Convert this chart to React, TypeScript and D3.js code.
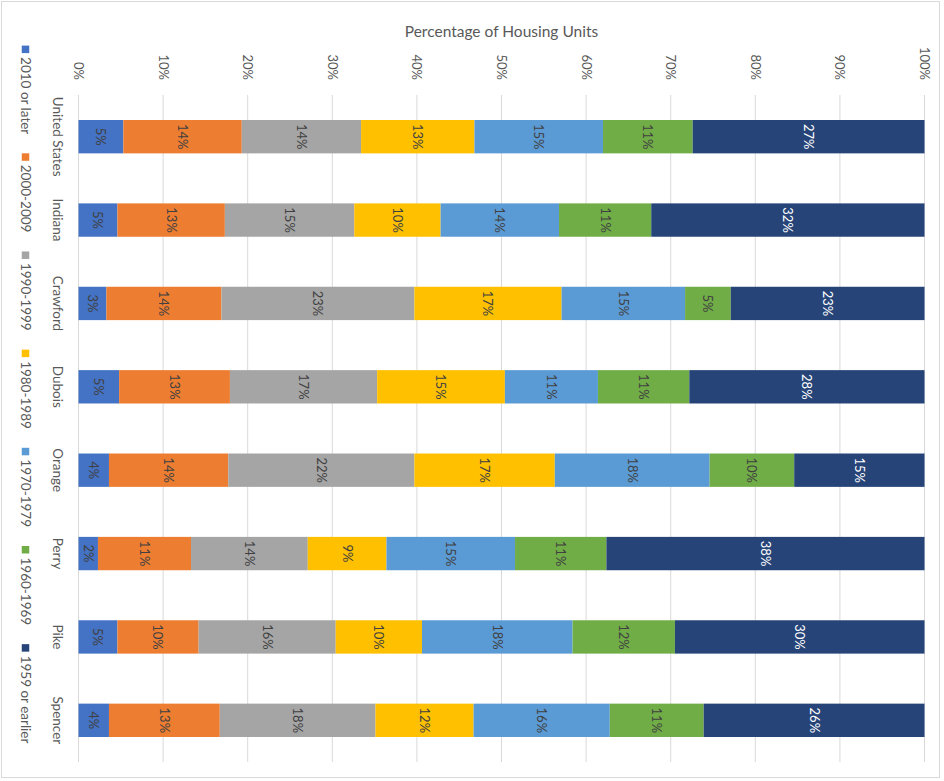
import { useEffect, useRef } from "react"
import * as d3 from "d3"

const categories = ["United States", "Indiana", "Crawford", "Dubois", "Orange", "Perry", "Pike", "Spencer"]
const seriesNames = ["2010 or later", "2000-2009", "1990-1999", "1980-1989", "1970-1979", "1960-1969", "1959 or earlier"]
const seriesColors = ["#4472C4", "#ED7D31", "#A5A5A5", "#FFC000", "#5B9BD5", "#70AD47", "#264478"]

const built2010 = [5.3, 4.6, 3.3, 4.8, 3.6, 2.3, 4.6, 3.6]
const built2000 = [14.0, 12.7, 13.6, 13.1, 14.1, 11.0, 9.6, 13.1]
const built1990 = [14.1, 15.3, 22.8, 17.4, 22.0, 13.8, 16.2, 18.4]
const built1980 = [13.4, 10.2, 17.4, 15.1, 16.6, 9.3, 10.2, 11.6]
const built1970 = [15.2, 14.0, 14.6, 11.0, 18.3, 15.2, 17.8, 16.1]
const built1960 = [10.6, 10.9, 5.4, 10.8, 10.0, 10.8, 12.1, 11.1]
const built1959 = [27.4, 32.3, 22.9, 27.8, 15.4, 37.6, 29.5, 26.1]

const seriesValues = [built2010, built2000, built1990, built1980, built1970, built1960, built1959]

const W = 944
const H = 781
const FONT = "Lato, 'Noto Sans', sans-serif"
const TEXT = "#595959"

export default function App() {
  const svgRef = useRef<SVGSVGElement>(null)

  useEffect(() => {
    if (!svgRef.current) return
    const svg = d3.select(svgRef.current)
    svg.selectAll("*").remove()

    // chart frame
    svg.append("rect")
      .attr("x", 1.5).attr("y", 1.5)
      .attr("width", W - 6).attr("height", H - 5)
      .attr("fill", "#fff").attr("stroke", "#d9d9d9")

    const plot = { left: 78.5, right: 924.5, top: 95, bottom: 762 }

    const x = d3.scaleLinear().domain([0, 100]).range([plot.left, plot.right])
    const y = d3.scaleBand().domain(categories).range([plot.top, plot.bottom]).paddingInner(0.6).paddingOuter(0.3)

    const rows = categories.map((c, i) => {
      const r: any = { category: c }
      seriesNames.forEach((s, j) => (r[s] = seriesValues[j][i]))
      return r
    })
    const stacked = d3.stack<any>().keys(seriesNames)(rows)

    // title
    svg.append("text")
      .attr("x", (plot.left + plot.right) / 2).attr("y", 37)
      .attr("text-anchor", "middle")
      .style("font-family", FONT).style("font-size", "15.5px").style("fill", TEXT)
      .text("Percentage of Housing Units")

    // gridlines + tick labels
    const ticks = x.ticks(10)
    svg.append("g").selectAll("line").data(ticks).enter().append("line")
      .attr("x1", (d) => x(d)).attr("x2", (d) => x(d))
      .attr("y1", plot.top).attr("y2", plot.bottom)
      .attr("stroke", "#d9d9d9").attr("stroke-width", 1)

    svg.append("g").selectAll("text").data(ticks).enter().append("text")
      .attr("transform", (d) => `translate(${x(d)},80) rotate(90)`)
      .attr("text-anchor", "end").attr("dy", "0.35em")
      .style("font-family", FONT).style("font-size", "13px").style("fill", TEXT)
      .text((d) => `${d}%`)

    // bars
    stacked.forEach((layer, j) => {
      const g = svg.append("g")
      g.selectAll("rect").data(layer).enter().append("rect")
        .attr("x", (d) => x(d[0]))
        .attr("width", (d) => x(d[1]) - x(d[0]))
        .attr("y", (d) => y(d.data.category)!)
        .attr("height", y.bandwidth())
        .attr("fill", seriesColors[j])

      g.selectAll("text").data(layer).enter().append("text")
        .attr("transform", (d) => `translate(${(x(d[0]) + x(d[1])) / 2},${y(d.data.category)! + y.bandwidth() / 2}) rotate(90)`)
        .attr("text-anchor", "middle").attr("dy", "0.35em")
        .style("font-family", FONT).style("font-size", "13px")
        .style("fill", j === seriesNames.length - 1 ? "#ffffff" : "#404040")
        .text((d) => `${Math.round(d[1] - d[0])}%`)
    })

    // category labels
    svg.append("g").selectAll("text").data(categories).enter().append("text")
      .attr("transform", (d) => `translate(58,${y(d)! + y.bandwidth() / 2}) rotate(90)`)
      .attr("text-anchor", "middle").attr("dy", "0.35em")
      .style("font-family", FONT).style("font-size", "13.5px").style("fill", TEXT)
      .text((d) => d)

    // legend, laid out down the left side and centred on the frame
    const legend = svg.append("g")
    const marker = 7.5
    const gapText = 4
    const gapItem = 19
    const labels = seriesNames.map((s) =>
      legend.append("text")
        .attr("text-anchor", "start").attr("dy", "0.35em")
        .style("font-family", FONT).style("font-size", "13.5px").style("fill", TEXT)
        .text(s)
    )
    const lengths = labels.map((t) => (t.node() as SVGTextElement).getComputedTextLength())
    const total = d3.sum(lengths) + seriesNames.length * (marker + gapText) + (seriesNames.length - 1) * gapItem
    let pos = H / 2 + 4 - total / 2
    const cx = 25.5
    seriesNames.forEach((s, j) => {
      legend.append("rect")
        .attr("x", cx - marker / 2).attr("y", pos)
        .attr("width", marker).attr("height", marker)
        .attr("fill", seriesColors[j])
      pos += marker + gapText
      labels[j].attr("transform", `translate(${cx},${pos}) rotate(90)`)
      pos += lengths[j] + gapItem
    })
  }, [])

  return (
    <svg
      ref={svgRef}
      width={W}
      height={H}
      style={{ position: "absolute", left: 0, top: 0, background: "#fff" }}
    />
  )
}
